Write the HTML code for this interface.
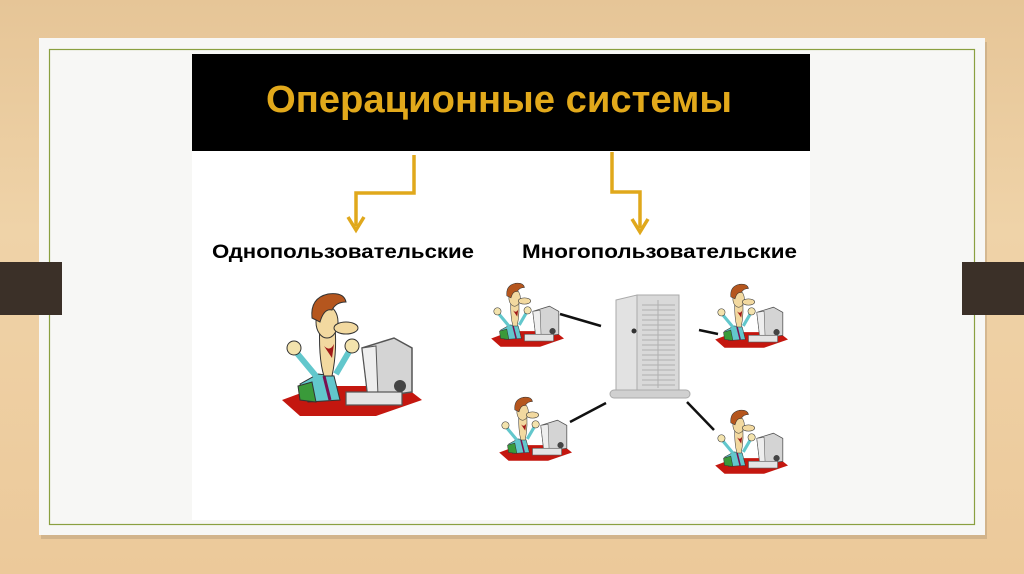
<!DOCTYPE html>
<html><head><meta charset="utf-8"><style>
html,body{margin:0;padding:0}
body{width:1024px;height:574px;overflow:hidden;background:linear-gradient(180deg,#e6c597 0%,#efd3a8 40%,#ecc99a 100%);position:relative;font-family:"Liberation Sans",sans-serif}
</style></head><body>
<svg width="1024" height="574" viewBox="0 0 1024 574" xmlns="http://www.w3.org/2000/svg" style="position:absolute;left:0;top:0">
<defs>
<symbol id="man" viewBox="0 0 150 130">
<polygon points="10,112 48,98 132,98 150,112 104,128 28,128" fill="#c4170f"/>
<polygon points="90,60 122,50 140,60 140,104 96,110" fill="#d4d4d4" stroke="#555" stroke-width="1.5"/>
<polygon points="90,60 104,58 106,108 96,110" fill="#eeeeee" stroke="#555" stroke-width="1"/>
<rect x="74" y="104" width="56" height="13" fill="#e4e4e4" stroke="#555" stroke-width="1.2"/>
<circle cx="128" cy="98" r="6" fill="#444"/>
<polygon points="28,96 46,86 62,88 68,112 36,114" fill="#62c7cc" stroke="#333" stroke-width="1"/>
<polygon points="26,98 40,94 44,114 28,112" fill="#3a9a3a" stroke="#333" stroke-width="1"/>
<line x1="52" y1="88" x2="58" y2="112" stroke="#7a1050" stroke-width="3"/>
<path d="M44,88 L24,64 M64,86 L78,62" stroke="#62c7cc" stroke-width="6" fill="none"/>
<circle cx="22" cy="60" r="7" fill="#f3e3ad" stroke="#333" stroke-width="1"/>
<circle cx="80" cy="58" r="7" fill="#f3e3ad" stroke="#333" stroke-width="1"/>
<path d="M48,30 Q46,70 52,88 L60,88 Q66,60 62,30 Z" fill="#f2d9a0" stroke="#333" stroke-width="1"/>
<ellipse cx="55" cy="34" rx="11" ry="16" fill="#f2d9a0" stroke="#333" stroke-width="1"/>
<ellipse cx="74" cy="40" rx="12" ry="6" fill="#f2d9a0" stroke="#333" stroke-width="1"/>
<path d="M52,58 Q58,64 62,56 L60,70 Z" fill="#a01818"/>
<path d="M40,30 Q38,10 56,6 Q72,4 74,14 Q64,14 60,22 Q52,20 48,34 Z" fill="#b5561e" stroke="#333" stroke-width="1"/>
</symbol>
</defs>
<rect x="41" y="42" width="946" height="497" fill="#b49a78" opacity="0.45"/>
<rect x="39" y="38" width="946" height="497" fill="#f7f7f5"/>
<rect x="49.5" y="49.5" width="925" height="475" fill="none" stroke="#8aa040" stroke-width="1.2"/>
<rect x="192" y="54" width="618" height="466" fill="#ffffff"/>
<rect x="192" y="54" width="618" height="97" fill="#000"/>
<text x="499" y="112" text-anchor="middle" font-family="Liberation Sans" font-weight="bold" font-size="38" fill="#e2a91b" textLength="466" lengthAdjust="spacingAndGlyphs">Операционные системы</text>
<rect x="0" y="262" width="62" height="53" fill="#3b3028"/>
<rect x="962" y="262" width="62" height="53" fill="#3b3028"/>
<g stroke="#e0a81c" stroke-width="3.5" fill="none">
<polyline points="414,155 414,193 356,193 356,226"/>
<polyline points="348,217 356,230 364,217"/>
<polyline points="612,152 612,192 640,192 640,228"/>
<polyline points="632,219 640,232 648,219"/>
</g>
<text x="212" y="258" font-family="Liberation Sans" font-weight="bold" font-size="19" fill="#000" textLength="262" lengthAdjust="spacingAndGlyphs">Однопользовательские</text>
<text x="522" y="258" font-family="Liberation Sans" font-weight="bold" font-size="19" fill="#000" textLength="275" lengthAdjust="spacingAndGlyphs">Многопользовательские</text>
<use href="#man" x="272" y="288" width="150" height="130"/>
<use href="#man" x="486" y="280" width="78" height="68"/>
<use href="#man" x="710" y="281" width="78" height="68"/>
<use href="#man" x="494" y="394" width="78" height="68"/>
<use href="#man" x="710" y="407" width="78" height="68"/>
<g stroke="#111" stroke-width="2.5">
<line x1="560" y1="314" x2="601" y2="326"/>
<line x1="699" y1="330" x2="718" y2="334"/>
<line x1="570" y1="422" x2="606" y2="403"/>
<line x1="687" y1="402" x2="714" y2="430"/>
</g>
<polygon points="616,300 637,295 637,392 616,392" fill="#e2e2e2" stroke="#aaa" stroke-width="1"/>
<rect x="637" y="295" width="42" height="97" fill="#d9d9d9" stroke="#aaa" stroke-width="1"/>
<g stroke="#b0b0b0" stroke-width="1">
<path d="M642,305H675M642,310H675M642,315H675M642,320H675M642,325H675M642,330H675M642,335H675M642,340H675M642,345H675M642,350H675M642,355H675M642,360H675M642,365H675M642,370H675M642,375H675M642,380H675M642,385H675"/>
<line x1="658" y1="300" x2="658" y2="388"/>
</g>
<circle cx="634" cy="331" r="2.5" fill="#333"/>
<rect x="610" y="390" width="80" height="8" rx="4" fill="#d0d0d0" stroke="#aaa" stroke-width="1"/>
</svg>
</body></html>
